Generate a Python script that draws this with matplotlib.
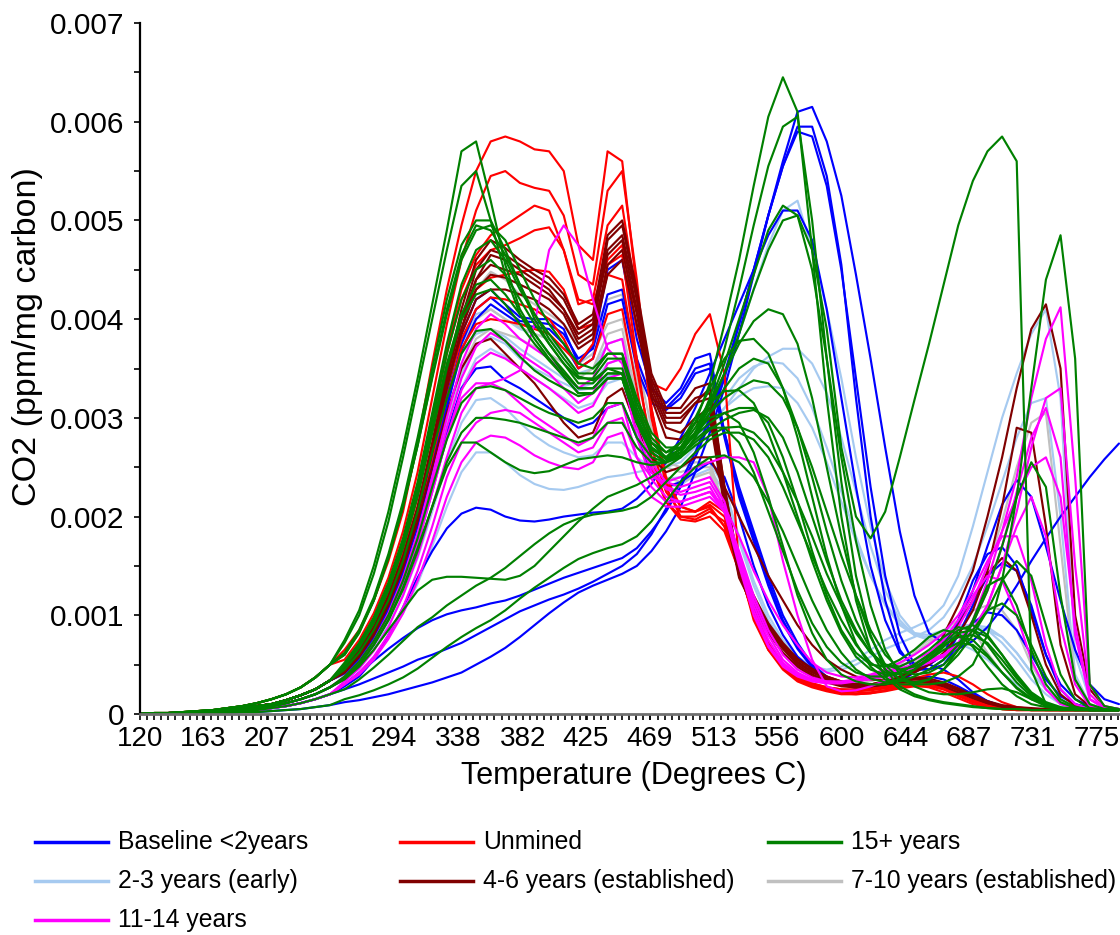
import matplotlib
matplotlib.use("Agg")
import matplotlib.pyplot as plt
from matplotlib.lines import Line2D
import numpy as np

plt.rcParams['font.family'] = ['Liberation Sans', 'DejaVu Sans']

# ---------------- data (CO2 in units of 0.001 ppm/mg carbon) ----------------
temps = list(range(120, 800, 10))   # sample temperatures, 120..790 C

# shared low-temperature onsets (120..250 C)
onset_A = [0, 0.01, 0.01, 0.02, 0.03, 0.04, 0.06, 0.08, 0.11, 0.15, 0.2, 0.27, 0.37, 0.5]
onset_B = [0, 0, 0.01, 0.01, 0.02, 0.03, 0.04, 0.06, 0.08, 0.1, 0.14, 0.19, 0.25, 0.34]
onset_C = [0, 0, 0, 0.01, 0.01, 0.02, 0.03, 0.04, 0.06, 0.08, 0.11, 0.15, 0.2, 0.27]
onset_D = [0, 0, 0, 0, 0.01, 0.01, 0.02, 0.03, 0.04, 0.06, 0.08, 0.11, 0.15, 0.2]
onset_E = [0, 0, 0, 0, 0, 0.01, 0.01, 0.02, 0.02, 0.03, 0.04, 0.05, 0.07, 0.09]

baseline = [
    onset_E + [.12,.14,.17,.2,.24,.28,.32,.37,.42,.5, .58,.67,.78,.9,1.02,1.13,1.23,1.3,1.36,1.42, 1.5,1.65,1.85,2.1,2.45,2.85,3.3,3.85,4.45,5.05, 5.6,6.1,6.15,5.8,5.25,4.45,3.6,2.7,1.85,1.2, .82,.72,.9,1.25,1.7,2.12,2.37,2.2,1.7,1.15, .65,.3,.15,.1],
    onset_D + [.25,.3,.36,.42,.48,.55,.6,.66,.72,.8, .88,.96,1.04,1.1,1.16,1.21,1.27,1.34,1.42,1.5, 1.62,1.82,2.08,2.35,2.65,3.0,3.45,3.95,4.5,5.05, 5.55,5.95,5.95,5.45,4.55,3.2,2.0,1.15,.65,.45, .45,.55,.8,1.1,1.4,1.53,1.45,1.1,.6,.25, .1,.06,.05,.05],
    onset_D + [.3,.42,.54,.66,.77,.87,.95,1.01,1.05,1.08, 1.12,1.15,1.2,1.26,1.32,1.38,1.43,1.48,1.53,1.58, 1.68,1.85,2.05,2.3,2.6,2.95,3.4,3.95,4.5,5.05, 5.55,5.9,5.85,5.35,4.5,3.4,2.3,1.4,.8,.5, .45,.5,.7,.92,1.03,1.0,.85,.6,.35,.18, .1,.06,.05,.05],
    onset_D + [.28,.38,.55,.8,1.08,1.38,1.65,1.88,2.03,2.09, 2.07,2.0,1.96,1.95,1.97,2.0,2.02,2.04,2.05,2.08, 2.18,2.33,2.55,2.8,3.1,3.45,3.8,4.15,4.5,4.85, 5.1,5.1,4.8,4.1,3.2,2.3,1.5,.95,.62,.5, .5,.6,.95,1.35,1.62,1.69,1.5,1.05,.6,.3, .15,.08,.05,.05],
    onset_B + [.43,.58,.8,1.1,1.5,2.0,2.6,3.25,3.85,4.2, 4.3,4.15,4.02,4.0,4.0,3.9,3.55,3.72,4.5,4.6, 3.8,3.3,3.15,3.3,3.6,3.65,2.85,2.3,1.85,1.4, 1.0,.72,.5,.38,.3,.26,.25,.27,.3,.32, .32,.28,.2,.12,.08,.06,.05,.05,.05,.05, .05,.05,.05,.05],
    onset_B + [.42,.57,.78,1.07,1.45,1.93,2.52,3.15,3.75,4.1, 4.22,4.1,3.98,3.97,3.95,3.85,3.6,3.7,4.25,4.3, 3.6,3.2,3.1,3.25,3.5,3.55,2.85,2.25,1.8,1.35, .95,.68,.48,.36,.3,.27,.25,.27,.33,.42, .5,.6,.66,.74,.88,1.07,1.3,1.55,1.78,2.0, 2.2,2.4,2.58,2.74],
    onset_B + [.42,.57,.78,1.06,1.43,1.9,2.48,3.1,3.68,4.0, 4.15,4.05,3.95,3.92,3.9,3.75,3.5,3.6,4.15,4.2, 3.5,3.15,3.08,3.2,3.45,3.5,2.8,2.2,1.75,1.3, .92,.66,.47,.36,.3,.27,.26,.28,.32,.36, .38,.35,.28,.2,.13,.08,.06,.05,.05,.05, .05,.05,.05,.05],
    onset_B + [.41,.55,.75,1.02,1.37,1.8,2.3,2.85,3.3,3.5, 3.52,3.38,3.3,3.2,3.1,3.0,2.9,2.95,3.1,3.15, 2.8,2.45,2.3,2.35,2.45,2.55,2.4,2.0,1.5,1.1, .8,.58,.45,.36,.3,.28,.28,.3,.35,.45, .5,.45,.35,.22,.13,.08,.06,.05,.05,.05, .05,.05,.05,.05],
]

unmined = [
    onset_A + [.65,.85,1.15,1.55,2.05,2.75,3.55,4.3,4.95,5.5, 5.8,5.85,5.8,5.72,5.7,5.5,4.75,4.6,5.7,5.6, 4.3,3.0,2.35,2.1,2.05,2.12,2.0,1.5,1.05,.7, .48,.36,.3,.26,.24,.23,.24,.26,.28,.29, .27,.22,.16,.1,.07,.05,.04,.04,.04,.04, .04,.04,.04,.04],
    onset_A + [.55,.75,1.02,1.38,1.85,2.45,3.2,3.95,4.6,5.1, 5.45,5.5,5.38,5.33,5.3,5.05,4.45,4.35,5.3,5.5, 4.4,3.1,2.3,2.0,1.97,2.05,1.95,1.5,1.0,.65, .45,.33,.27,.23,.2,.2,.21,.24,.27,.3, .3,.26,.2,.13,.08,.05,.04,.04,.04,.04, .04,.04,.04,.04],
    onset_B + [.5,.7,.96,1.3,1.75,2.3,3.0,3.7,4.3,4.65, 4.85,4.95,5.05,5.15,5.1,4.7,4.15,4.2,4.95,5.15, 4.2,3.1,2.4,2.1,2.05,2.15,2.05,1.6,1.1,.72, .5,.38,.31,.27,.25,.25,.26,.28,.3,.31, .3,.25,.18,.12,.08,.05,.04,.04,.04,.04, .04,.04,.04,.04],
    onset_B + [.48,.67,.92,1.25,1.7,2.25,2.95,3.65,4.2,4.55, 4.7,4.75,4.82,4.9,4.93,4.7,4.2,4.15,4.6,4.75, 3.9,3.35,3.28,3.5,3.85,4.05,3.45,1.5,.95,.65, .47,.37,.31,.27,.25,.24,.25,.27,.3,.32, .33,.3,.24,.16,.1,.06,.05,.04,.04,.04, .04,.04,.04,.04],
    onset_B + [.47,.65,.9,1.22,1.65,2.2,2.85,3.5,4.0,4.3, 4.42,4.45,4.48,4.5,4.48,4.3,3.9,3.95,4.45,4.4, 3.5,2.7,2.25,2.05,2.05,2.1,1.9,1.45,1.0,.68, .47,.35,.28,.25,.23,.23,.25,.28,.32,.36, .4,.42,.38,.3,.2,.12,.07,.05,.04,.04, .04,.04,.04,.04],
    onset_B + [.46,.64,.88,1.2,1.6,2.1,2.7,3.3,3.8,4.1, 4.22,4.2,4.15,4.1,4.0,3.8,3.5,3.6,4.05,4.1, 3.3,2.5,2.15,2.0,2.0,2.08,1.9,1.45,1.0,.68, .47,.35,.28,.24,.22,.21,.22,.24,.27,.3, .32,.3,.25,.18,.12,.07,.05,.04,.04,.04, .04,.04,.04,.04],
    onset_B + [.45,.62,.85,1.16,1.55,2.02,2.6,3.2,3.7,3.95, 4.0,3.98,3.95,3.9,3.85,3.7,3.55,3.75,4.55,4.65, 3.6,2.6,2.15,1.97,1.95,2.0,1.85,1.45,1.0,.7, .48,.36,.28,.24,.21,.2,.21,.23,.26,.28, .28,.25,.2,.14,.09,.06,.05,.04,.04,.04, .04,.04,.04,.04],
]

years_4_6 = [
    onset_B + [.46,.64,.88,1.2,1.6,2.1,2.75,3.45,4.1,4.6, 4.8,4.72,4.6,4.5,4.42,4.25,3.95,4.05,4.85,5.0, 4.3,3.45,3.1,3.1,3.3,3.35,2.3,1.5,1.2,.92, .72,.56,.46,.38,.33,.3,.3,.32,.35,.37, .36,.32,.26,.19,.13,.09,.07,.06,.05,.05, .04,.04,.04,.04],
    onset_B + [.44,.62,.85,1.17,1.57,2.07,2.7,3.4,4.0,4.5, 4.7,4.65,4.55,4.45,4.35,4.2,3.9,4.0,4.7,4.85, 4.2,3.4,3.05,3.05,3.2,3.25,2.2,1.45,1.15,.9, .7,.55,.45,.38,.33,.3,.3,.32,.36,.43, .55,.8,1.1,1.45,2.0,2.6,3.3,3.9,4.15,3.5, 1.0,.25,.08,.05],
    onset_B + [.42,.6,.82,1.13,1.52,2.02,2.65,3.3,3.9,4.4, 4.65,4.6,4.5,4.4,4.3,4.1,3.85,3.95,4.65,4.8, 4.1,3.3,2.95,2.95,3.15,3.2,2.25,1.5,1.15,.88, .68,.52,.42,.36,.32,.3,.3,.32,.36,.42, .5,.62,.8,1.05,1.45,2.1,2.9,2.85,1.9,.7, .2,.08,.05,.04],
    onset_B + [.45,.63,.86,1.18,1.58,2.08,2.72,3.4,4.0,4.4, 4.55,4.5,4.45,4.35,4.25,4.1,3.8,3.9,4.8,4.95, 4.25,3.35,3.0,3.0,3.15,3.3,2.3,1.48,1.15,.88, .68,.53,.43,.36,.32,.3,.3,.33,.38,.45, .55,.7,.9,1.15,1.42,1.58,1.45,1.0,.5,.2, .08,.05,.04,.04],
    onset_B + [.43,.6,.83,1.14,1.53,2.03,2.66,3.33,3.9,4.3, 4.45,4.42,4.35,4.28,4.2,4.05,3.75,3.85,4.55,4.7, 4.05,3.25,2.9,2.85,3.0,3.1,2.15,1.4,1.1,.85, .66,.5,.4,.34,.3,.28,.28,.3,.33,.35, .34,.3,.25,.18,.12,.08,.06,.05,.05,.04, .04,.04,.04,.04],
    onset_B + [.44,.61,.84,1.15,1.55,2.05,2.68,3.33,3.85,4.2, 4.3,4.3,4.25,4.2,4.1,3.95,3.7,3.8,4.45,4.6, 3.95,3.2,2.8,2.78,2.95,3.0,2.1,1.38,1.08,.82, .62,.48,.38,.32,.28,.27,.28,.3,.32,.33, .32,.28,.22,.16,.11,.08,.06,.05,.05,.04, .04,.04,.04,.04],
    onset_B + [.42,.58,.8,1.1,1.48,1.95,2.5,3.05,3.5,3.75, 3.8,3.65,3.5,3.35,3.15,2.95,2.8,2.85,3.2,3.3, 2.9,2.6,2.45,2.5,2.6,2.6,2.3,2.0,1.7,1.4, 1.15,.9,.7,.55,.45,.38,.35,.34,.35,.36, .34,.3,.24,.17,.11,.07,.05,.05,.04,.04, .04,.04,.04,.04],
]

years_7_10 = [
    onset_B + [.44,.61,.84,1.15,1.54,2.03,2.65,3.3,3.9,4.3, 4.48,4.4,4.25,4.15,4.05,3.95,3.75,3.85,4.2,4.25, 3.6,2.9,2.55,2.5,2.55,2.55,2.1,1.55,1.15,.85, .62,.47,.38,.33,.3,.3,.33,.38,.45,.52, .6,.72,.9,1.15,1.5,1.95,2.5,2.95,3.05,1.7, .35,.1,.05,.05],
    onset_B + [.42,.58,.8,1.1,1.48,1.95,2.55,3.15,3.7,4.0, 4.1,4.0,3.92,3.85,3.8,3.7,3.55,3.65,3.95,4.0, 3.4,2.8,2.5,2.45,2.5,2.5,2.1,1.6,1.2,.9, .68,.52,.42,.36,.33,.33,.36,.42,.5,.62, .72,.82,.88,.85,.62,.42,.26,.15,.09,.06, .05,.04,.04,.04],
    onset_B + [.4,.56,.78,1.06,1.42,1.88,2.45,3.0,3.5,3.8, 3.9,3.85,3.8,3.72,3.65,3.55,3.4,3.5,3.85,3.9, 3.2,2.65,2.4,2.35,2.4,2.45,2.05,1.55,1.15,.85, .63,.48,.4,.35,.33,.34,.38,.45,.55,.65, .75,.85,.95,1.05,1.1,1.05,.85,.5,.25,.12, .07,.05,.04,.04],
]

years_2_3 = [
    onset_C + [.37,.52,.73,1.0,1.36,1.8,2.35,2.95,3.45,3.75, 3.82,3.75,3.6,3.5,3.42,3.35,3.28,3.3,3.42,3.45, 3.05,2.7,2.55,2.6,2.8,3.1,3.45,3.85,4.3,4.75, 5.1,5.2,4.7,4.1,3.4,2.6,1.9,1.35,1.0,.82, .75,.75,.8,.85,.85,.78,.62,.42,.25,.14, .08,.05,.04,.04],
    onset_B + [.42,.58,.8,1.1,1.48,1.95,2.55,3.2,3.75,4.05, 4.1,4.0,3.9,3.85,3.8,3.65,3.45,3.5,3.75,3.8, 3.2,2.7,2.5,2.55,2.7,2.9,3.1,3.3,3.5,3.62, 3.7,3.7,3.55,3.25,2.8,2.25,1.7,1.25,.95,.8, .75,.75,.72,.65,.55,.42,.3,.2,.12,.07, .05,.04,.04,.04],
    onset_C + [.35,.48,.66,.9,1.2,1.58,2.05,2.55,2.95,3.18, 3.2,3.1,2.95,2.82,2.72,2.65,2.6,2.62,2.75,2.75, 2.6,2.5,2.5,2.6,2.8,3.0,3.2,3.4,3.52,3.57, 3.55,3.4,3.1,2.7,2.25,1.8,1.4,1.1,.9,.8, .78,.8,.85,.9,.88,.78,.62,.42,.25,.14, .08,.05,.04,.04],
    onset_D + [.3,.42,.58,.78,1.02,1.32,1.7,2.1,2.45,2.65, 2.65,2.55,2.42,2.33,2.28,2.27,2.3,2.35,2.4,2.42, 2.45,2.48,2.52,2.62,2.78,2.95,3.1,3.22,3.3,3.32, 3.3,3.15,2.9,2.55,2.15,1.75,1.4,1.12,.92,.82, .8,.85,.9,.9,.85,.72,.55,.35,.2,.1, .06,.04,.04,.04],
    onset_B + [.42,.58,.8,1.1,1.48,1.95,2.55,3.15,3.65,3.85, 3.9,3.82,3.7,3.6,3.5,3.4,3.3,3.35,3.55,3.6, 3.0,2.55,2.38,2.4,2.5,2.55,2.3,1.8,1.35,1.0, .75,.58,.48,.45,.48,.55,.65,.75,.82,.88, .95,1.1,1.4,1.9,2.45,3.0,3.45,3.85,4.1,3.2, .6,.15,.06,.05],
    onset_C + [.36,.5,.7,.96,1.3,1.72,2.25,2.8,3.3,3.6, 3.7,3.62,3.5,3.4,3.3,3.2,3.1,3.15,3.35,3.4, 2.85,2.45,2.3,2.32,2.42,2.48,2.25,1.75,1.3,.95, .72,.56,.46,.43,.45,.5,.58,.66,.72,.78, .85,.98,1.2,1.5,1.9,2.35,2.8,3.15,3.2,2.0, .4,.1,.05,.04],
]

years_11_14 = [
    onset_C + [.38,.53,.74,1.02,1.38,1.83,2.4,3.0,3.55,3.9, 4.05,3.95,3.8,3.7,3.6,3.45,3.3,3.4,3.75,3.8, 3.05,2.5,2.3,2.25,2.3,2.35,2.1,1.55,1.05,.7, .5,.4,.35,.33,.33,.35,.38,.42,.46,.5, .55,.6,.72,.95,1.35,1.85,2.4,3.2,3.8,4.12, 2.4,.3,.07,.05],
    onset_C + [.37,.52,.72,1.0,1.35,1.78,2.33,2.9,3.4,3.72, 3.86,3.78,3.65,3.55,3.45,3.3,3.15,3.25,3.55,3.6, 2.9,2.45,2.28,2.22,2.25,2.3,2.05,1.5,1.0,.68, .48,.38,.33,.31,.31,.33,.36,.4,.44,.48, .52,.58,.68,.85,1.1,1.5,2.05,2.7,3.2,3.3, 1.5,.2,.06,.05],
    onset_C + [.35,.5,.7,.96,1.3,1.72,2.25,2.8,3.2,3.35, 3.35,3.4,3.48,3.95,4.7,4.95,4.75,4.2,3.7,3.55, 3.0,2.55,2.35,2.3,2.35,2.4,2.15,1.6,1.1,.75, .52,.4,.34,.32,.32,.34,.37,.4,.44,.5, .58,.7,.88,1.15,1.5,1.85,2.2,2.5,2.6,2.2, .9,.15,.06,.05],
    onset_C + [.36,.5,.7,.96,1.3,1.72,2.25,2.8,3.28,3.55, 3.66,3.6,3.5,3.4,3.3,3.18,3.05,3.12,3.4,3.45, 2.8,2.38,2.2,2.15,2.2,2.25,2.05,1.65,1.2,.85, .6,.45,.37,.33,.32,.33,.35,.38,.42,.47, .52,.6,.72,.92,1.25,1.7,2.25,2.8,3.1,2.6, .8,.15,.06,.05],
    onset_D + [.33,.46,.64,.88,1.2,1.6,2.1,2.6,3.05,3.3, 3.35,3.28,3.15,3.02,2.92,2.82,2.72,2.8,3.1,3.15, 2.6,2.3,2.15,2.15,2.2,2.25,2.1,1.8,1.45,1.15, .9,.7,.52,.42,.38,.37,.4,.45,.52,.6, .7,.82,1.0,1.25,1.55,1.8,1.8,1.35,.7,.25, .1,.05,.04,.04],
    onset_D + [.3,.42,.58,.8,1.08,1.45,1.9,2.4,2.75,2.95, 3.05,3.08,3.05,2.95,2.85,2.75,2.65,2.7,2.95,3.0, 2.6,2.4,2.35,2.4,2.5,2.55,2.6,2.6,2.55,2.2, 1.55,1.0,.55,.28,.23,.24,.28,.34,.42,.48, .55,.6,.7,.85,1.1,1.5,1.9,2.2,1.8,.9, .3,.08,.05,.04],
    onset_D + [.3,.4,.55,.76,1.02,1.35,1.75,2.2,2.55,2.75, 2.82,2.8,2.72,2.62,2.55,2.5,2.48,2.55,2.8,2.85, 2.4,2.2,2.1,2.1,2.15,2.2,2.05,1.6,1.15,.8, .55,.42,.35,.32,.32,.34,.38,.42,.48,.55, .62,.75,.95,1.2,1.4,1.35,1.0,.55,.25,.1, .06,.04,.04,.04],
]

years_15_plus = [
    onset_A + [.75,1.05,1.5,2.05,2.7,3.4,4.15,4.9,5.7,5.8, 5.2,4.55,4.1,3.85,3.65,3.45,3.3,3.3,3.45,3.45, 3.0,2.7,2.6,2.75,2.95,3.35,3.95,4.6,5.35,6.05, 6.45,6.1,4.7,3.2,2.0,1.15,.65,.38,.25,.18, .14,.11,.09,.07,.06,.05,.05,.04,.04,.04, .04,.04,.04,.04],
    onset_A + [.72,1.0,1.42,1.95,2.6,3.3,4.0,4.7,5.35,5.5, 5.0,4.45,4.05,3.8,3.6,3.42,3.25,3.25,3.4,3.4, 2.95,2.65,2.55,2.65,2.85,3.2,3.7,4.3,4.95,5.55, 5.95,6.05,5.0,3.6,2.35,1.4,.8,.45,.28,.2, .15,.12,.1,.08,.06,.05,.05,.04,.04,.04, .04,.04,.04,.04],
    onset_A + [.62,.85,1.18,1.62,2.15,2.8,3.5,4.2,4.75,5.0, 5.0,4.7,4.35,4.0,3.75,3.55,3.4,3.4,3.6,3.6, 3.1,2.75,2.6,2.65,2.85,3.15,3.55,4.0,4.45,4.9, 5.15,5.05,4.5,3.6,2.6,1.75,1.1,.65,.4,.28, .22,.2,.2,.22,.25,.26,.22,.15,.1,.06, .05,.04,.04,.04],
    onset_A + [.6,.82,1.15,1.58,2.1,2.72,3.4,4.05,4.6,4.9, 4.95,4.8,4.5,4.2,3.95,3.75,3.55,3.5,3.65,3.65, 3.2,2.85,2.7,2.7,2.85,3.1,3.45,3.85,4.3,4.7, 5.0,5.05,4.7,3.9,2.7,2.0,1.78,2.05,2.6,3.18, 3.75,4.35,4.95,5.4,5.7,5.85,5.6,.45,.1,.06, .05,.04,.04,.04],
    onset_B + [.52,.72,.98,1.33,1.78,2.35,3.05,3.75,4.35,4.7, 4.8,4.6,4.3,4.05,3.85,3.65,3.45,3.45,3.65,3.65, 3.15,2.8,2.65,2.7,2.9,3.15,3.45,3.75,3.98,4.1, 4.05,3.75,3.2,2.5,1.8,1.2,.78,.5,.35,.3, .3,.32,.38,.5,.8,1.35,2.2,3.3,4.4,4.85, 3.6,.3,.08,.05],
    onset_B + [.5,.7,.95,1.3,1.74,2.3,2.98,3.65,4.2,4.5, 4.6,4.45,4.2,3.95,3.75,3.55,3.35,3.35,3.5,3.5, 3.05,2.75,2.65,2.75,3.0,3.3,3.6,3.78,3.8,3.65, 3.3,2.8,2.2,1.6,1.1,.72,.48,.35,.3,.3, .35,.45,.6,.8,1.05,1.35,1.55,1.4,.9,.4, .15,.06,.05,.04],
    onset_B + [.48,.67,.92,1.25,1.68,2.2,2.85,3.5,4.0,4.25, 4.3,4.15,3.95,3.75,3.58,3.42,3.25,3.25,3.4,3.4, 2.95,2.65,2.55,2.6,2.8,3.05,3.3,3.5,3.6,3.55, 3.3,2.9,2.4,1.85,1.35,.95,.65,.45,.35,.32, .35,.45,.65,.95,1.3,1.38,1.1,.65,.3,.12, .06,.05,.04,.04],
    onset_C + [.38,.53,.74,1.0,1.35,1.78,2.3,2.78,3.15,3.3, 3.32,3.28,3.2,3.12,3.05,3.0,2.95,3.0,3.15,3.15, 2.8,2.6,2.55,2.65,2.85,3.05,3.2,3.3,3.38,3.35, 3.2,2.9,2.5,2.05,1.6,1.2,.85,.6,.45,.4, .42,.5,.65,.85,1.05,1.12,1.0,.7,.38,.15, .07,.05,.04,.04],
    onset_C + [.36,.5,.7,.95,1.26,1.65,2.1,2.55,2.85,3.0, 3.0,2.98,2.95,2.9,2.85,2.8,2.75,2.8,2.95,2.95, 2.7,2.55,2.55,2.7,2.95,3.15,3.27,3.28,3.15,2.85, 2.45,2.0,1.55,1.15,.82,.58,.45,.4,.42,.5, .6,.72,.85,.9,.8,.6,.38,.2,.1,.06, .05,.04,.04,.04],
    onset_C + [.36,.5,.7,.95,1.28,1.68,2.1,2.5,2.75,2.75, 2.65,2.55,2.47,2.44,2.46,2.52,2.58,2.6,2.62,2.6, 2.55,2.52,2.55,2.62,2.75,2.88,2.98,3.05,3.08,3.0, 2.8,2.45,2.0,1.55,1.15,.85,.62,.5,.48,.55, .65,.78,.88,.85,.7,.5,.32,.18,.1,.06, .05,.04,.04,.04],
    onset_C + [.35,.48,.65,.85,1.05,1.25,1.36,1.39,1.39,1.38, 1.37,1.36,1.4,1.5,1.65,1.8,1.95,2.08,2.2,2.26, 2.32,2.4,2.5,2.6,2.72,2.82,2.9,2.91,2.85,2.7, 2.45,2.15,1.8,1.42,1.1,.82,.62,.5,.45,.48, .55,.68,.82,.85,.78,.6,.4,.22,.12,.07, .05,.04,.04,.04],
    onset_D + [.25,.35,.47,.6,.74,.88,.98,1.1,1.2,1.3, 1.38,1.48,1.6,1.72,1.83,1.92,1.98,2.02,2.04,2.06, 2.1,2.2,2.35,2.5,2.65,2.78,2.85,2.85,2.78,2.6, 2.3,1.95,1.6,1.25,.95,.7,.52,.42,.4,.45, .55,.65,.72,.7,.58,.42,.27,.16,.09,.06, .05,.04,.04,.04],
    onset_E + [.15,.19,.24,.3,.37,.46,.57,.68,.78,.87, .95,1.05,1.17,1.28,1.38,1.48,1.57,1.63,1.68,1.72, 1.8,1.95,2.15,2.35,2.5,2.6,2.62,2.55,2.4,2.15, 1.85,1.5,1.15,.85,.62,.45,.36,.32,.35,.45, .58,.7,.78,.75,.6,.42,.26,.15,.08,.05, .04,.04,.04,.04],
    onset_A + [.6,.83,1.15,1.58,2.1,2.72,3.42,4.1,4.65,4.95, 4.9,4.65,4.35,4.05,3.8,3.6,3.42,3.38,3.5,3.45, 3.0,2.7,2.58,2.62,2.78,2.9,2.9,2.75,2.45,2.05, 1.65,1.25,.92,.68,.52,.42,.38,.38,.42,.5, .6,.7,.78,.8,.72,.55,.36,.2,.1,.06, .05,.04,.04,.04],
    onset_B + [.49,.68,.93,1.27,1.7,2.24,2.9,3.55,4.05,4.35, 4.4,4.25,4.05,3.85,3.65,3.48,3.3,3.3,3.45,3.45, 3.0,2.7,2.6,2.68,2.85,3.0,3.05,2.95,2.65,2.2, 1.7,1.2,.82,.55,.4,.33,.3,.3,.33,.38, .45,.55,.7,.92,1.25,1.7,2.2,2.55,2.3,1.2, .35,.1,.05,.04],
    onset_B + [.45,.62,.85,1.15,1.55,2.05,2.65,3.2,3.65,3.88, 3.9,3.78,3.62,3.48,3.38,3.3,3.22,3.25,3.4,3.4, 2.95,2.68,2.6,2.68,2.82,2.95,3.05,3.1,3.1,2.95, 2.6,2.15,1.65,1.2,.85,.62,.5,.48,.55,.65, .78,.85,.82,.68,.48,.3,.18,.1,.07,.05, .04,.04,.04,.04],
]

series_names = ['Baseline <2years', 'Unmined', '15+ years', '2-3 years (early)',
                '4-6 years (established)', '7-10 years (established)', '11-14 years']
series_colors = ['#0000ff', '#ff0000', '#008000', '#a6caf0', '#800000', '#c0c0c0', '#ff00ff']
series_data = [baseline, unmined, years_15_plus, years_2_3, years_4_6, years_7_10, years_11_14]
draw_order = [3, 5, 0, 1, 4, 6, 2]

x_tick_labels = ['120', '163', '207', '251', '294', '338', '382', '425', '469', '513',
                 '556', '600', '644', '687', '731', '775']
y_ticks = [0, 0.001, 0.002, 0.003, 0.004, 0.005, 0.006, 0.007]
y_tick_labels = ['0', '0.001', '0.002', '0.003', '0.004', '0.005', '0.006', '0.007']

# ---------------- figure ----------------
W, H = 1120, 935
fig = plt.figure(figsize=(W / 100, H / 100), dpi=100)
ax = fig.add_axes([140 / W, (H - 714) / H, (W - 140) / W, (714 - 23) / H])

for gi in draw_order:
    for curve in series_data[gi]:
        assert len(curve) == len(temps)
        ax.plot(temps, np.array(curve) * 1e-3, color=series_colors[gi], lw=1.55,
                solid_joinstyle='round', solid_capstyle='round')

ax.set_xlim(120, 790.7)
ax.set_ylim(0, 0.007)

xt = [float(v) for v in x_tick_labels]
ax.set_xticks(xt)
ax.set_xticklabels(x_tick_labels)
ax.set_xticks(np.linspace(120, 775, 15 * 9 + 1).tolist() + [779.85, 784.7, 789.55], minor=True)
ax.set_yticks(y_ticks)
ax.set_yticklabels(y_tick_labels)
ax.set_yticks(np.arange(0.0005, 0.007, 0.001), minor=True)

ax.tick_params(axis='both', which='both', direction='out', length=4, width=1.2, color='black')
ax.tick_params(axis='x', labelsize=20, pad=5)
ax.tick_params(axis='y', labelsize=21.5, pad=7)

for side in ['top', 'right']:
    ax.spines[side].set_visible(False)
ax.spines['left'].set_linewidth(1.6)
ax.spines['bottom'].set_linewidth(2.0)
ax.spines['bottom'].set_color('#707070')
ax.spines['left'].set_color('black')

fig.text(634 / W, 1 - 776 / H, 'Temperature (Degrees C)', ha='center', va='center', fontsize=22)
fig.text(28 / W, 1 - 337 / H, 'CO2 (ppm/mg carbon)', ha='center', va='center',
         rotation=90, fontsize=24.5)

# legend laid out as in the reference (3 columns)
col_x = [35, 400, 768]
row_y = [842, 881, 920]
for k, gi in enumerate([0, 1, 2, 3, 4, 5, 6]):
    cx = col_x[k % 3]
    ry = row_y[k // 3]
    fig.add_artist(Line2D([cx / W, (cx + 73) / W], [1 - ry / H, 1 - ry / H],
                          transform=fig.transFigure, color=series_colors[gi], lw=2.5))
    fig.text((cx + 83) / W, 1 - ry / H, series_names[gi], ha='left', va='center', fontsize=17.8)

fig.savefig('out.png', dpi=100)
